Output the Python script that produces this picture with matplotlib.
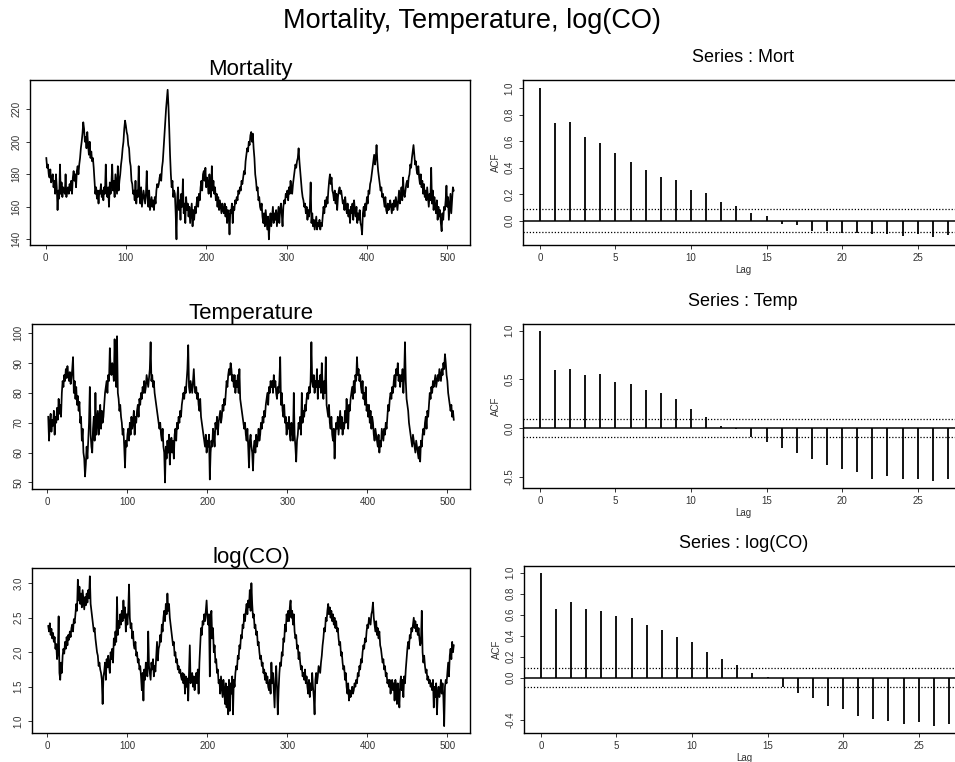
import numpy as np
import matplotlib
matplotlib.use('Agg')
import matplotlib.pyplot as plt

plt.rcParams['font.family'] = ['Liberation Sans', 'DejaVu Sans']

# ---------------- data ----------------
mortality = [
    190, 184, 186, 180, 178, 183, 175, 177, 180, 172,
    176, 168, 180, 172, 158, 170, 165, 186, 168, 175,
    166, 172, 170, 168, 180, 166, 170, 172, 168, 174,
    170, 176, 168, 178, 182, 176, 180, 172, 182, 185,
    180, 186, 190, 196, 200, 205, 212, 208, 200, 203,
    196, 206, 198, 192, 200, 190, 194, 188, 190, 184,
    176, 168, 172, 165, 170, 162, 170, 168, 174, 166,
    170, 164, 172, 168, 186, 170, 166, 172, 160, 175,
    168, 174, 186, 170, 176, 166, 180, 174, 168, 185,
    170, 176, 180, 186, 190, 196, 200, 208, 213, 210,
    206, 204, 198, 196, 188, 185, 176, 174, 168, 170,
    164, 176, 162, 170, 166, 185, 168, 162, 172, 160,
    165, 170, 166, 162, 168, 182, 166, 160, 170, 158,
    162, 166, 160, 164, 158, 166, 162, 170, 174, 172,
    174, 178, 180, 176, 184, 188, 196, 204, 212, 220,
    226, 232, 222, 208, 192, 180, 172, 176, 166, 170,
    168, 156, 140, 166, 172, 158, 164, 152, 168, 160,
    177, 156, 162, 150, 166, 158, 162, 154, 160, 150,
    156, 162, 148, 158, 152, 160, 156, 162, 166, 160,
    168, 164, 172, 176, 170, 180, 182, 176, 184, 172,
    178, 174, 168, 180, 172, 166, 185, 170, 176, 168,
    172, 164, 168, 160, 166, 158, 164, 160, 156, 162,
    158, 156, 162, 154, 160, 150, 158, 155, 143, 158,
    156, 162, 150, 160, 158, 164, 162, 166, 164, 170,
    168, 172, 170, 176, 174, 178, 182, 180, 188, 192,
    196, 194, 200, 198, 204, 206, 200, 205, 196, 190,
    180, 176, 170, 172, 164, 166, 160, 158, 162, 154,
    150, 156, 148, 158, 152, 146, 154, 140, 150, 156,
    148, 154, 160, 150, 156, 152, 158, 148, 154, 160,
    150, 158, 162, 156, 148, 160, 164, 162, 168, 166,
    170, 164, 172, 168, 176, 170, 168, 174, 178, 182,
    186, 184, 188, 190, 196, 188, 182, 176, 170, 166,
    164, 160, 162, 156, 160, 152, 158, 154, 160, 175,
    150, 156, 148, 152, 146, 150, 154, 146, 150, 148,
    152, 146, 150, 148, 154, 160, 156, 164, 160, 166,
    162, 170, 176, 180, 174, 178, 170, 168, 164, 170,
    162, 168, 158, 166, 170, 172, 168, 170, 166, 162,
    164, 158, 166, 160, 156, 162, 154, 158, 150, 160,
    156, 162, 152, 164, 158, 154, 160, 150, 156, 152,
    158, 150, 148, 143, 156, 160, 154, 162, 158, 166,
    162, 170, 168, 174, 176, 180, 184, 188, 192, 186,
    190, 198, 188, 182, 178, 174, 170, 172, 166, 168,
    164, 160, 166, 158, 156, 162, 158, 160, 164, 160,
    156, 162, 158, 164, 160, 166, 162, 158, 164, 170,
    162, 166, 172, 164, 178, 168, 166, 170, 174, 176,
    172, 178, 180, 186, 184, 190, 194, 198, 192, 186,
    188, 182, 180, 185, 178, 174, 180, 172, 176, 168,
    174, 166, 170, 164, 172, 166, 160, 168, 164, 184,
    162, 170, 158, 166, 160, 156, 164, 152, 160, 154,
    158, 150, 145, 156, 152, 160, 158, 164, 173, 160,
    166, 152, 160, 168, 156, 164, 172, 170,
]

temperature = [
    72, 64, 70, 73, 67, 71, 69, 74, 66, 72,
    70, 75, 71, 78, 73, 76, 72, 80, 84, 82,
    86, 84, 88, 85, 89, 86, 84, 87, 83, 85,
    88, 92, 80, 84, 78, 82, 76, 79, 74, 77,
    70, 72, 64, 68, 60, 58, 52, 56, 62, 58,
    64, 70, 82, 66, 62, 60, 68, 72, 64, 80,
    66, 70, 74, 66, 72, 76, 68, 74, 70, 72,
    76, 80, 82, 84, 80, 86, 84, 95, 88, 86,
    90, 88, 84, 98, 86, 82, 99, 80, 78, 74,
    76, 72, 70, 66, 68, 62, 55, 64, 62, 66,
    68, 64, 70, 66, 72, 68, 70, 74, 66, 72,
    70, 74, 76, 72, 78, 76, 80, 78, 82, 80,
    84, 80, 82, 86, 84, 82, 85, 88, 97, 84,
    86, 82, 84, 80, 78, 76, 74, 72, 70, 68,
    70, 66, 64, 68, 62, 60, 50, 62, 58, 64,
    60, 66, 56, 62, 65, 60, 64, 58, 66, 68,
    64, 70, 68, 72, 70, 74, 72, 76, 78, 80,
    78, 82, 80, 84, 88, 96, 82, 80, 84, 82,
    80, 84, 88, 82, 80, 82, 78, 80, 76, 74,
    78, 72, 70, 68, 66, 64, 62, 66, 60, 64,
    62, 66, 51, 60, 64, 62, 68, 66, 62, 70,
    68, 72, 66, 70, 72, 74, 70, 72, 76, 74,
    78, 76, 80, 84, 82, 86, 88, 86, 90, 88,
    84, 86, 82, 86, 80, 84, 82, 86, 80, 88,
    78, 76, 74, 72, 70, 68, 70, 66, 64, 68,
    62, 55, 64, 66, 62, 60, 54, 62, 64, 60,
    66, 62, 64, 68, 64, 66, 70, 68, 72, 70,
    74, 72, 76, 78, 80, 76, 82, 80, 84, 82,
    84, 80, 86, 82, 84, 80, 78, 82, 80, 84,
    92, 76, 80, 74, 72, 76, 70, 72, 66, 70,
    68, 72, 66, 64, 70, 68, 64, 80, 66, 62,
    57, 64, 66, 70, 68, 72, 66, 80, 70, 74,
    72, 76, 74, 78, 80, 78, 82, 80, 84, 97,
    84, 82, 86, 80, 84, 82, 88, 78, 84, 82,
    86, 80, 90, 82, 78, 84, 80, 92, 76, 74,
    72, 76, 70, 68, 72, 66, 64, 68, 58, 66,
    70, 68, 72, 66, 70, 74, 68, 72, 66, 70,
    68, 74, 70, 78, 72, 68, 76, 74, 78, 80,
    82, 78, 84, 80, 86, 84, 92, 86, 88, 84,
    86, 82, 80, 84, 78, 80, 76, 82, 74, 76,
    72, 76, 70, 74, 68, 72, 70, 66, 64, 68,
    66, 64, 62, 66, 60, 64, 62, 68, 66, 64,
    68, 66, 70, 68, 72, 76, 74, 78, 80, 78,
    82, 80, 84, 86, 82, 88, 86, 90, 84, 86,
    82, 86, 84, 88, 80, 86, 97, 84, 78, 76,
    74, 70, 68, 66, 64, 62, 66, 64, 62, 60,
    64, 62, 60, 58, 62, 57, 64, 62, 66, 68,
    66, 70, 72, 68, 74, 72, 76, 80, 78, 82,
    80, 84, 82, 84, 86, 82, 84, 86, 84, 88,
    86, 84, 88, 86, 90, 88, 93, 90, 86, 84,
    80, 78, 76, 74, 76, 72, 74, 71,
]

log_co = [
    2.38, 2.30, 2.42, 2.25, 2.34, 2.20, 2.28, 2.15, 2.22, 2.05,
    2.12, 1.90, 2.00, 2.52, 1.70, 1.60, 1.85, 1.70, 1.95, 2.05,
    1.98, 2.15, 2.05, 2.22, 2.10, 2.25, 2.18, 2.30, 2.22, 2.35,
    2.40, 2.30, 2.48, 2.42, 2.55, 2.70, 2.60, 3.05, 2.75, 2.95,
    2.70, 2.85, 2.65, 2.90, 2.75, 2.62, 2.80, 2.68, 2.85, 2.72,
    2.90, 2.78, 3.10, 2.70, 2.60, 2.50, 2.40, 2.30, 2.35, 2.20,
    2.10, 2.00, 1.95, 1.80, 1.85, 1.75, 1.70, 1.60, 1.25, 1.65,
    1.72, 1.85, 1.60, 1.90, 1.78, 1.95, 1.80, 1.70, 2.00, 1.90,
    2.05, 1.85, 2.20, 2.10, 2.30, 2.15, 2.80, 2.25, 2.45, 2.35,
    2.55, 2.40, 2.60, 2.45, 2.75, 2.50, 2.65, 2.30, 2.55, 2.40,
    2.60, 2.98, 2.50, 2.35, 2.42, 2.20, 2.30, 2.10, 2.05, 2.15,
    1.95, 2.00, 1.85, 1.90, 1.75, 1.80, 1.65, 1.45, 1.70, 1.30,
    1.75, 1.60, 1.85, 1.70, 1.65, 2.30, 1.80, 1.70, 1.60, 1.85,
    1.75, 1.90, 1.65, 1.80, 1.72, 1.95, 2.15, 1.88, 2.05, 2.10,
    2.25, 2.15, 2.40, 2.30, 2.50, 2.60, 2.45, 2.70, 2.55, 2.85,
    2.60, 2.70, 2.50, 2.40, 2.30, 2.20, 2.10, 2.15, 1.95, 2.00,
    1.85, 1.90, 1.75, 1.80, 1.70, 1.75, 1.65, 1.60, 1.70, 1.55,
    1.68, 1.40, 1.65, 1.50, 1.62, 1.30, 1.70, 2.10, 1.55, 1.60,
    1.70, 1.50, 1.65, 1.45, 1.60, 1.70, 1.55, 1.75, 1.40, 1.85,
    2.10, 2.35, 2.25, 2.45, 2.40, 2.55, 2.45, 2.60, 2.75, 2.50,
    2.40, 2.55, 1.65, 2.45, 2.60, 2.20, 2.35, 2.00, 2.10, 1.85,
    1.90, 1.70, 1.75, 1.55, 1.60, 1.40, 1.65, 1.50, 1.35, 1.60,
    1.45, 1.25, 1.55, 1.20, 1.50, 1.10, 1.60, 1.15, 1.55, 1.40,
    1.65, 1.10, 1.60, 1.50, 1.70, 1.80, 1.75, 1.95, 1.90, 2.10,
    2.05, 2.25, 2.20, 2.40, 2.35, 2.55, 2.45, 2.60, 2.70, 2.55,
    2.75, 2.65, 2.90, 2.60, 3.00, 2.70, 2.50, 2.55, 2.35, 2.40,
    2.25, 2.30, 2.10, 2.15, 2.00, 1.90, 1.95, 1.80, 1.85, 1.70,
    1.75, 1.60, 1.70, 1.55, 1.65, 1.50, 1.45, 1.60, 1.40, 1.85,
    1.55, 1.70, 1.45, 1.20, 1.60, 1.80, 1.50, 1.10, 1.45, 1.70,
    1.85, 1.80, 2.00, 1.95, 2.20, 2.15, 2.40, 2.30, 2.55, 2.45,
    2.60, 2.45, 2.65, 2.75, 2.50, 2.60, 2.40, 2.55, 2.30, 2.20,
    2.25, 2.05, 2.10, 1.90, 2.00, 1.85, 1.75, 1.80, 1.65, 1.70,
    1.60, 1.75, 1.55, 1.65, 1.50, 1.40, 1.60, 1.35, 1.55, 1.45,
    1.70, 1.50, 1.35, 1.10, 1.60, 1.70, 1.55, 1.65, 1.80, 1.75,
    1.70, 1.85, 1.95, 2.10, 2.20, 2.35, 2.30, 2.50, 2.45, 2.60,
    2.70, 2.55, 2.65, 2.50, 2.60, 2.45, 2.55, 2.40, 2.50, 2.35,
    2.45, 2.30, 2.35, 2.20, 2.10, 2.15, 1.95, 2.00, 1.85, 1.75,
    1.80, 1.60, 1.70, 1.50, 1.40, 1.55, 1.30, 1.45, 1.35, 1.40,
    1.50, 1.40, 1.45, 1.55, 1.50, 1.60, 1.55, 1.70, 1.65, 1.80,
    1.75, 1.90, 1.85, 2.00, 2.10, 2.05, 2.20, 2.15, 2.30, 2.40,
    2.35, 2.50, 2.45, 2.40, 2.55, 2.60, 2.72, 2.50, 2.40, 2.30,
    2.45, 2.25, 2.35, 2.20, 2.30, 2.10, 2.05, 1.95, 1.85, 1.90,
    1.75, 1.80, 1.65, 1.70, 1.55, 1.60, 1.50, 1.60, 1.40, 1.55,
    1.60, 1.45, 1.55, 1.30, 1.60, 1.50, 1.25, 1.55, 1.40, 1.20,
    1.55, 1.65, 1.45, 1.60, 1.35, 1.65, 1.55, 1.75, 1.90, 2.05,
    2.15, 2.05, 2.25, 2.20, 2.35, 2.30, 2.40, 2.50, 2.35, 2.45,
    2.30, 2.40, 2.25, 2.35, 2.20, 2.10, 2.15, 2.60, 2.00, 1.85,
    1.95, 1.80, 1.70, 1.75, 1.60, 1.65, 1.55, 1.60, 1.50, 1.55,
    1.45, 1.60, 1.20, 1.50, 1.35, 1.55, 1.10, 1.40, 1.50, 1.35,
    1.45, 1.60, 1.40, 1.55, 1.35, 0.93, 1.50, 1.60, 1.55, 1.70,
    1.85, 1.65, 1.95, 2.05, 1.90, 2.15, 2.00, 2.10,
]

lags = list(range(28))
acf_mort = [1.00, 0.735, 0.748, 0.63, 0.59, 0.51, 0.44, 0.38, 0.33, 0.31,
            0.23, 0.21, 0.14, 0.11, 0.055, 0.035, -0.025, -0.03, -0.08, -0.08,
            -0.09, -0.095, -0.10, -0.10, -0.115, -0.10, -0.125, -0.11]
acf_temp = [1.00, 0.597, 0.607, 0.546, 0.556, 0.471, 0.45, 0.386, 0.358, 0.30,
            0.198, 0.113, 0.024, -0.005, -0.092, -0.147, -0.205, -0.25, -0.317, -0.375,
            -0.42, -0.45, -0.52, -0.495, -0.52, -0.522, -0.546, -0.52]
acf_co = [1.00, 0.655, 0.719, 0.655, 0.639, 0.585, 0.565, 0.505, 0.457, 0.387,
          0.342, 0.249, 0.179, 0.121, 0.048, 0.003, -0.086, -0.144, -0.19, -0.27,
          -0.30, -0.364, -0.396, -0.41, -0.444, -0.42, -0.46, -0.44]
conf_band = 0.089

ts_titles = ['Mortality', 'Temperature', 'log(CO)']
acf_titles = ['Series : Mort', 'Series : Temp', 'Series : log(CO)']
ts_yticks = [[140, 160, 180, 200, 220], [50, 60, 70, 80, 90, 100],
             [1.0, 1.5, 2.0, 2.5, 3.0]]
ts_yticklabels = [['140', '160', '180', '200', '220'],
                  ['50', '60', '70', '80', '90', '100'],
                  ['1.0', '1.5', '2.0', '2.5', '3.0']]
ts_xticks = [0, 100, 200, 300, 400, 500]
acf_yticks = [[0.0, 0.2, 0.4, 0.6, 0.8, 1.0], [-0.5, 0.0, 0.5, 1.0],
              [-0.4, 0.0, 0.2, 0.4, 0.6, 0.8, 1.0]]
acf_yticklabels = [['0.0', '0.2', '0.4', '0.6', '0.8', '1.0'],
                   ['-0.5', '0.0', '0.5', '1.0'],
                   ['-0.4', '0.0', '0.2', '0.4', '0.6', '0.8', '1.0']]
acf_xticks = [0, 5, 10, 15, 20, 25]

# ---------------- layout ----------------
W, H = 955, 762
fig = plt.figure(figsize=(W / 100, H / 100), dpi=100)

ts_boxes = [(30, 80, 470, 245), (32, 324, 470, 489), (32, 568, 470, 733)]
acf_boxes = [(523, 80, 963, 245), (523, 324, 963, 488), (524, 566, 964, 733)]
ts_ylims = [(136.5, 238.0), (47.8, 103.1), (0.83, 3.22)]
acf_ylims = [(-0.184, 1.063), (-0.614, 1.068), (-0.527, 1.064)]

series = [mortality, temperature, log_co]
acfs = [acf_mort, acf_temp, acf_co]

tick_color = '#333333'


def box_to_rect(b):
    l, t, r, bt = b
    return [l / W, 1 - bt / H, (r - l) / W, (bt - t) / H]


def style(ax):
    for s in ax.spines.values():
        s.set_linewidth(1.0)
        s.set_color('black')
    ax.tick_params(direction='out', length=3, width=0.7, labelsize=7,
                   colors=tick_color, pad=3)
    for lab in ax.get_yticklabels():
        lab.set_rotation(90)
        lab.set_va('center')


for i in range(3):
    ax = fig.add_axes(box_to_rect(ts_boxes[i]))
    y = series[i]
    x = np.arange(1, len(y) + 1)
    ax.plot(x, y, color='black', lw=1.25)
    ax.set_xlim(-19.3, 528.3)
    ax.set_ylim(*ts_ylims[i])
    ax.set_xticks(ts_xticks)
    ax.set_xticklabels([str(v) for v in ts_xticks])
    ax.set_yticks(ts_yticks[i])
    ax.set_yticklabels(ts_yticklabels[i])
    style(ax)
    ax.set_title(ts_titles[i], fontsize=16, pad=1)

    ax2 = fig.add_axes(box_to_rect(acf_boxes[i]))
    ax2.vlines(lags, 0, acfs[i], color='black', lw=1.3)
    ax2.axhline(0, color='black', lw=1.1)
    ax2.axhline(conf_band, color='black', lw=0.9, ls=(0, (1, 1.5)))
    ax2.axhline(-conf_band, color='black', lw=0.9, ls=(0, (1, 1.5)))
    ax2.set_xlim(-1.12, 28.0)
    ax2.set_ylim(*acf_ylims[i])
    ax2.set_xticks(acf_xticks)
    ax2.set_xticklabels([str(v) for v in acf_xticks])
    ax2.set_yticks(acf_yticks[i])
    ax2.set_yticklabels(acf_yticklabels[i])
    style(ax2)
    ax2.set_xlabel('Lag', fontsize=7, labelpad=1, color=tick_color)
    ax2.set_ylabel('ACF', fontsize=7, labelpad=3, color=tick_color)
    ax2.set_title(acf_titles[i], fontsize=13, pad=13)

fig.text(0.494, 0.973, 'Mortality, Temperature, log(CO)', ha='center',
         va='center', fontsize=19.5)

fig.savefig('out.png', dpi=100)
